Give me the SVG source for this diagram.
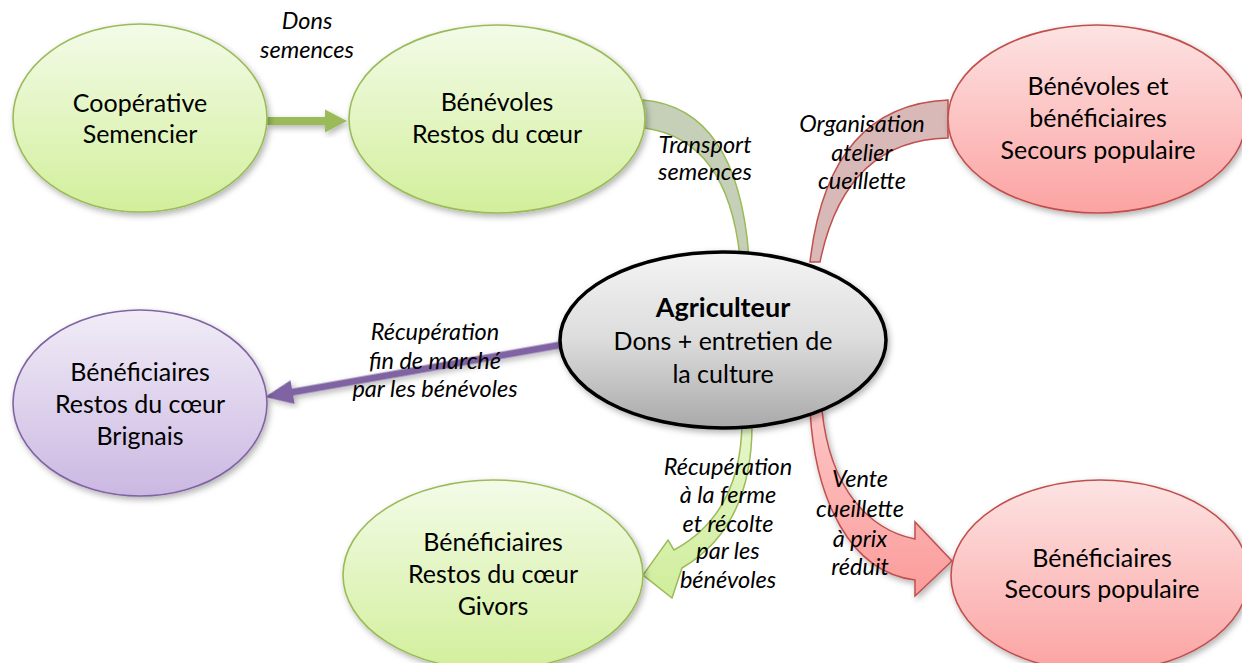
<svg xmlns="http://www.w3.org/2000/svg" width="1242" height="663" viewBox="0 0 1242 663">
<defs>
<linearGradient id="gGreen" x1="0" y1="0" x2="0" y2="1"><stop offset="0" stop-color="#f3fbe8"/><stop offset="1" stop-color="#d2ef9b"/></linearGradient>
<linearGradient id="gRed" x1="0" y1="0" x2="0" y2="1"><stop offset="0" stop-color="#fde3e3"/><stop offset="1" stop-color="#fba3a2"/></linearGradient>
<linearGradient id="gPurple" x1="0" y1="0" x2="0" y2="1"><stop offset="0" stop-color="#f1ecf7"/><stop offset="1" stop-color="#cbb8e2"/></linearGradient>
<linearGradient id="gGray" x1="0" y1="0" x2="0" y2="1"><stop offset="0" stop-color="#f4f4f4"/><stop offset="0.5" stop-color="#dcdcdc"/><stop offset="1" stop-color="#a9a9a9"/></linearGradient>
<linearGradient id="gRedArrow" x1="0" y1="0" x2="0" y2="1"><stop offset="0" stop-color="#fcc6c5"/><stop offset="1" stop-color="#fb9c9b"/></linearGradient>
<linearGradient id="gGreenArrow" x1="0" y1="0" x2="0" y2="1"><stop offset="0" stop-color="#e6f6cc"/><stop offset="1" stop-color="#d0ee9b"/></linearGradient>
<filter id="sh" x="-10%" y="-10%" width="130%" height="130%"><feDropShadow dx="2" dy="3" stdDeviation="3" flood-color="#000" flood-opacity="0.3"/></filter>
</defs>
<style>
.node text{font-family:Lato,"Liberation Sans",sans-serif;font-size:25px;fill:#000;text-anchor:middle}
.lbl text{font-family:Lato,"Liberation Sans",sans-serif;font-size:23.5px;font-style:italic;fill:#000;text-anchor:middle}
.green{fill:url(#gGreen);stroke:#9bbb59;stroke-width:1.6}
.red{fill:url(#gRed);stroke:#c0504d;stroke-width:1.6}
.purple{fill:url(#gPurple);stroke:#8064a2;stroke-width:1.6}
.center{fill:url(#gGray);stroke:#000;stroke-width:3.5}
</style>
<g id="connectors">
<polygon points="267,117 325,117 325,109.5 347,121 325,132.5 325,125 267,125" fill="#9bbb59" filter="url(#sh)"/>
<path d="M643,100 Q 738,108 749,258 L 740,258 Q 728,140 645,128 Z" fill="#c6d0b8" stroke="#9bbb59" stroke-width="1.5"/>
<path d="M810,262 Q 828,105 948,100 L 948,138 Q 845,140 820,262 Z" fill="#d9b8b8" stroke="#c0504d" stroke-width="1.5"/>
<polygon points="0,0 28,-12 28,-3.5 300,-3.5 300,3.5 28,3.5 28,12" transform="translate(265,397) rotate(-10)" fill="#8064a2" filter="url(#sh)"/>
<path d="M742,420 C 742,480 720,525 674,550 L 668,540 L 643,575 L 672,598 L 682,568 C 730,540 753,490 752,420 Z" fill="url(#gGreenArrow)" stroke="#9bbb59" stroke-width="1.5"/>
<path d="M810,410 C 815,500 850,572 915,580 L 915,596 L 952,561 L 915,522 L 915,539 C 870,530 830,490 822,410 Z" fill="url(#gRedArrow)" stroke="#c0504d" stroke-width="1.5" filter="url(#sh)"/>
</g>
<g id="n-coop" class="node"><ellipse cx="140" cy="118" rx="127" ry="94" class="green" filter="url(#sh)"/><text x="140" y="112">Coopérative</text><text x="140" y="143">Semencier</text></g>
<g id="n-benevoles" class="node"><ellipse cx="497" cy="119" rx="148" ry="94" class="green" filter="url(#sh)"/><text x="497" y="111">Bénévoles</text><text x="497" y="143">Restos du cœur</text></g>
<g id="n-secours-top" class="node"><ellipse cx="1097" cy="119" rx="149" ry="94" class="red" filter="url(#sh)"/><text x="1098" y="95">Bénévoles et</text><text x="1098" y="127">bénéficiaires</text><text x="1098" y="159">Secours populaire</text></g>
<g id="n-agri" class="node"><ellipse cx="723" cy="340" rx="163" ry="88" class="center" filter="url(#sh)"/><text x="723" y="317" font-weight="bold" style="font-size:27px">Agriculteur</text><text x="723" y="350">Dons + entretien de</text><text x="723" y="383">la culture</text></g>
<g id="n-brignais" class="node"><ellipse cx="140" cy="403" rx="127" ry="93" class="purple" filter="url(#sh)"/><text x="140" y="381">Bénéficiaires</text><text x="140" y="413">Restos du cœur</text><text x="140" y="445">Brignais</text></g>
<g id="n-givors" class="node"><ellipse cx="493" cy="575" rx="150" ry="95" class="green" filter="url(#sh)"/><text x="493" y="551">Bénéficiaires</text><text x="493" y="583">Restos du cœur</text><text x="493" y="615">Givors</text></g>
<g id="n-secours-bottom" class="node"><ellipse cx="1100" cy="576" rx="149" ry="96" class="red" filter="url(#sh)"/><text x="1102" y="567">Bénéficiaires</text><text x="1102" y="598">Secours populaire</text></g>
<g id="labels" class="lbl">
<text x="307" y="29">Dons</text><text x="307" y="58">semences</text>
<text x="705" y="153">Transport</text><text x="705" y="180">semences</text>
<text x="862" y="132">Organisation</text><text x="862" y="161">atelier</text><text x="862" y="189">cueillette</text>
<text x="435" y="340">Récupération</text><text x="435" y="369">fin de marché</text><text x="435" y="397">par les bénévoles</text>
<text x="728" y="475">Récupération</text><text x="728" y="503">à la ferme</text><text x="728" y="532">et récolte</text><text x="728" y="559">par les</text><text x="728" y="588">bénévoles</text>
<text x="860" y="487">Vente</text><text x="860" y="517">cueillette</text><text x="860" y="547">à prix</text><text x="860" y="575">réduit</text>
</g>
</svg>
